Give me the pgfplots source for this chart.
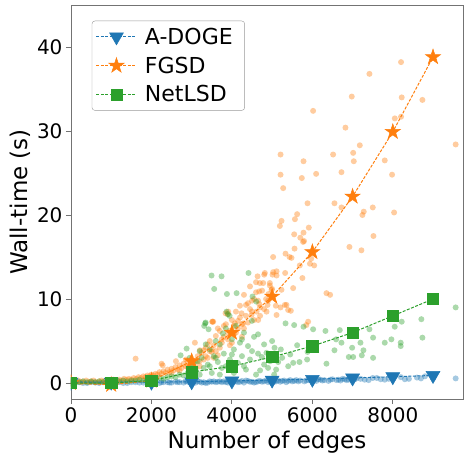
\documentclass[border=0pt]{standalone}
\usepackage{pgfplots}
\pgfplotsset{compat=1.18}
\usepackage{fontspec}
\setmainfont{DejaVu Sans}
\definecolor{cA}{HTML}{1F77B4}
\definecolor{cB}{HTML}{FF7F0E}
\definecolor{cC}{HTML}{2CA02C}
\pgfdeclareplotmark{fstar}{%
  \pgfpathmoveto{\pgfpointpolar{90}{\pgfplotmarksize}}%
  \pgfpathlineto{\pgfpointpolar{126}{0.382\pgfplotmarksize}}%
  \pgfpathlineto{\pgfpointpolar{162}{\pgfplotmarksize}}%
  \pgfpathlineto{\pgfpointpolar{198}{0.382\pgfplotmarksize}}%
  \pgfpathlineto{\pgfpointpolar{234}{\pgfplotmarksize}}%
  \pgfpathlineto{\pgfpointpolar{270}{0.382\pgfplotmarksize}}%
  \pgfpathlineto{\pgfpointpolar{306}{\pgfplotmarksize}}%
  \pgfpathlineto{\pgfpointpolar{342}{0.382\pgfplotmarksize}}%
  \pgfpathlineto{\pgfpointpolar{18}{\pgfplotmarksize}}%
  \pgfpathlineto{\pgfpointpolar{54}{0.382\pgfplotmarksize}}%
  \pgfpathclose
  \pgfusepathqfillstroke}
\pgfdeclareplotmark{dot}{%
  \pgfpathcircle{\pgfpointorigin}{\pgfplotmarksize}%
  \pgfusepathqfill}
\begin{document}
\begin{tikzpicture}
\begin{axis}[
  scale only axis, width=392pt, height=394pt,
  xmin=0, xmax=9745, ymin=-1.9, ymax=45,
  xtick={0,2000,4000,6000,8000}, ytick={0,10,20,30,40},
  /pgf/number format/1000 sep={},
  /pgf/number format/assume math mode=true,
  tick label style={font=\fontsize{20}{24}\selectfont},
  label style={font=\fontsize{23}{27}\selectfont},
  xlabel={Number of edges}, ylabel={Wall-time (s)},
  xlabel style={yshift=-4pt, inner sep=1pt},
  tick align=outside, tick pos=left, major tick length=5pt,
  axis line style={gray!90!black, line width=0.9pt},
  every tick/.style={gray!90!black, line width=0.9pt},
  clip marker paths=true,
  legend style={at={(0.053,0.96)}, anchor=north west, draw=gray!80, rounded corners=3pt,
    font=\fontsize{22}{26}\selectfont, inner xsep=4pt, inner ysep=5pt, row sep=7pt,
    nodes={inner xsep=8pt}},
  legend cell align=left,
  legend image code/.code={\draw[mark repeat=2,mark phase=2,#1] plot coordinates {(0pt,0pt) (20pt,0pt) (40pt,0pt)};},
]
% scatter: A-DOGE
\addplot[only marks, mark=dot, mark size=3pt, color=cA, mark options={fill=cA, fill opacity=0.4}, forget plot] coordinates {
(0,0.0)(100,0.05)(200,0.1)(300,0.0)(400,0.0)(500,0.1)(600,0.05)(700,0.0)(800,0.1)(900,0.05)(1000,0.05)(1100,0.1)(1200,0.1)(1300,0.0)(1400,0.0)(1500,0.1)(1600,0.1)(1700,0.05)(1800,0.05)(1900,0.1)(2000,0.1)(2100,0.05)(2200,0.0)(2300,0.1)(2400,0.1)(2500,0.05)(2600,0.15)(2700,0.1)(2800,0.05)(2900,0.15)(3000,0.1)(3100,0.05)(3200,0.15)(3300,0.1)(3400,0.05)(3500,0.15)(3600,0.1)(3700,0.2)(3800,0.2)(3900,0.05)(4000,0.1)(4100,0.2)(4200,0.15)(4300,0.05)(4400,0.25)(4500,0.15)(4600,0.1)(4700,0.25)(4800,0.2)(4900,0.1)(5000,0.3)(5100,0.2)(5200,0.15)(5300,0.3)(5400,0.25)(5500,0.2)(5600,0.35)(5700,0.3)(5800,0.2)(5900,0.35)(6000,0.3)(6100,0.25)(6200,0.4)(6300,0.35)(6400,0.25)(6500,0.45)(6600,0.35)(6700,0.3)(6800,0.45)(6900,0.4)(7000,0.3)(7100,0.55)(7200,0.5)(7400,0.35)(7500,0.6)(7600,0.6)(7800,0.4)(7900,0.5)(8000,0.55)(8200,0.7)(8300,0.45)(8400,0.5)(8600,0.65)(8700,0.55)(8800,0.8)(9000,0.6)(9563,0.55)
(3150,0.2)(3350,0.0)(3550,0.2)(3750,0.1)(3950,0.25)(4150,0.1)(4350,0.3)(4550,0.05)(4750,0.15)(4950,0.2)(5150,0.3)(5350,0.1)(5550,0.25)(6150,0.45)(6750,0.5)(7300,0.4)(7700,0.45)
(2050,0.15)(2250,0.1)(2450,0.05)(2650,0.1)(2850,0.2)(3050,0.15)(3250,0.05)(3450,0.2)(3650,0.15)(3850,0.1)(4050,0.2)(4250,0.25)(4450,0.15)(4650,0.2)(4850,0.3)(5050,0.15)(5250,0.25)(5450,0.35)(5650,0.2)(5850,0.3)(6050,0.35)(6250,0.3)(6450,0.4)(6650,0.4)(6850,0.35)(7050,0.45)
};
% scatter: FGSD
\addplot[only marks, mark=dot, mark size=3pt, color=cB, mark options={fill=cB, fill opacity=0.4}, forget plot] coordinates {
(0,0.1)(30,0.3)(80,0.0)(120,0.2)(180,0.3)(250,0.1)(300,0.2)(380,0.3)(450,0.1)(500,0.2)(560,0.3)(620,0.1)(700,0.2)(760,0.3)(820,0.2)(880,0.1)(950,0.3)(1000,0.2)(1050,0.4)(1100,0.2)(1150,0.3)(1200,0.4)(1260,0.3)(1320,0.5)(1380,0.4)(1440,0.5)(1500,0.4)(1560,0.6)(1620,0.5)(1680,0.7)(1740,0.6)(1800,0.8)(1850,0.7)(1900,0.9)(1950,0.8)(2000,1.0)(2050,0.9)(2100,1.1)(2150,1.0)(2200,1.3)(2250,1.1)(2300,1.4)(2350,1.2)(2400,1.6)(2450,1.3)(2500,1.7)(2550,1.5)(2600,1.9)(2650,1.6)(2700,2.1)(2750,1.8)(2800,2.3)(2850,2.0)(2900,2.6)(2950,2.2)(3000,2.9)
(1606,2.9)(2253,2.3)(2280,2.1)(2608,2.6)(2857,2.8)(3080,4.8)(3204,3.9)(3520,7.3)(3900,8.2)(3510,7.3)(3842,8.3)
(3050,1.5)(3100,2.5)(3150,3.2)(3200,2.0)(3250,3.6)(3300,2.8)(3350,4.2)(3400,3.0)(3450,5.0)(3500,3.7)(3550,4.5)(3600,5.6)(3650,3.3)(3700,6.2)(3750,4.8)(3800,5.5)(3850,7.0)(3900,6.0)(3950,4.5)(4000,7.5)(4050,5.8)(4100,8.5)(4150,6.5)(4200,9.2)(4250,7.0)(4300,10.5)(4350,8.0)(4400,9.5)(4450,11.5)(4500,8.5)(4550,10.0)(4600,12.0)
(3100,1.8)(3300,3.9)(3400,4.6)(3500,4.0)(3600,3.8)(3650,6.5)(3700,4.2)(3800,6.8)(3900,5.2)(4000,4.8)(4100,6.0)(4200,7.8)(4300,6.5)(4350,9.3)(4400,7.2)(4500,9.8)(4550,7.5)(4600,10.8)(4700,9.0)(4750,11.0)(4800,8.8)(4900,9.8)(5000,11.2)
(4638,12.7)(4678,10.9)(4680,9.4)(4700,8.0)(4778,11.9)(4803,12.9)(4850,10.0)(4886,9.3)(4910,10.6)(4944,11.6)(5010,12.9)(5025,15.0)(5110,13.3)(5192,18.7)(5209,27.2)(5209,24.8)(5209,9.0)(5234,19.3)(5275,23.2)(5324,13.1)(5357,9.3)(5432,15.0)(5465,8.6)(5548,17.7)(5557,16.0)(5567,19.5)(5622,20.1)(5738,24.4)(5753,12.5)(5780,26.4)(5780,17.9)(5794,16.9)(5850,6.9)(5880,21.4)(5895,7.3)(5912,18.5)(5940,14.2)(5970,14.8)(6019,32.4)(6045,14.0)(6094,24.9)(6351,10.7)(6442,10.5)(6516,27.2)(6550,21.4)(6724,25.1)(6724,20.9)(6823,30.4)(6922,16.2)(6980,34.1)(7015,27.4)(7030,26.4)(7180,28.3)(7220,15.8)(7245,20.0)(7278,20.4)(7419,36.8)(7502,20.9)(7519,17.5)(7800,26.5)(7982,24.8)(8032,20.3)(8050,31.5)(8205,38.2)(8205,31.7)(8222,34.0)(8736,33.7)(9563,28.4)
(5333,15.4)(5482,14.9)(5688,14.0)(4819,13.1)(5025,13.2)(5110,12.8)(4695,11.9)(4943,11.9)(4985,11.1)(5233,11.1)(5523,11.3)(5316,9.3)(5398,8.7)(5093,9.2)(4861,8.5)(5110,8.1)(4613,8.5)(4489,8.1)(4653,7.5)(4240,8.3)(4281,7.1)(4074,7.1)(3536,7.3)(3908,8.5)(5770,16.8)(5700,17.3)
(2500,1.2)(2700,1.5)(2900,1.9)(3000,2.3)(3200,2.6)(3350,3.2)(3450,3.8)(3550,3.0)(3750,5.2)(3950,6.2)(4050,6.8)(4150,7.4)(4250,5.5)(4450,8.8)(4650,9.8)
};
% scatter: NetLSD
\addplot[only marks, mark=dot, mark size=3pt, color=cC, mark options={fill=cC, fill opacity=0.4}, forget plot] coordinates {
(0,0.0)(50,0.2)(100,0.1)(200,0.1)(300,0.2)(400,0.1)(500,0.2)(600,0.1)(700,0.2)(800,0.1)(900,0.2)(1000,0.1)(1100,0.2)(1200,0.2)(1300,0.3)(1400,0.2)(1500,0.3)(1600,0.3)(1700,0.4)(1800,0.3)(1900,0.4)(2000,0.4)(2100,0.5)(2200,0.6)(2300,0.5)(2400,0.7)(2500,0.8)(2600,0.7)(2700,1.0)(2800,0.9)(2900,1.2)(3000,1.1)
(2725,3.3)(2874,4.1)(3000,2.0)(3050,0.8)(3100,1.5)(3150,2.6)(3200,1.0)(3250,3.0)(3300,1.8)(3312,6.8)(3337,7.1)(3346,7.2)(3400,2.2)(3420,6.4)(3450,4.0)(3494,12.8)(3500,1.2)(3560,11.2)(3550,3.2)(3600,5.0)(3650,2.5)(3700,4.6)(3743,12.7)(3750,1.8)(3776,5.9)(3800,3.5)(3850,6.5)(3867,8.5)(3876,10.6)(3900,8.2)(3942,8.0)(3950,2.8)(4000,5.2)(4050,4.0)(4100,6.8)(4117,10.7)(4150,2.4)(4200,4.8)(4250,3.2)(4300,6.0)(4350,1.6)(4400,4.4)(4413,13.1)(4450,2.8)(4497,7.4)(4513,10.3)(4550,5.5)(4604,9.7)(4650,3.5)(4700,1.5)(4745,3.1)(4800,2.2)(4860,3.6)(4900,1.8)(4950,2.6)(5060,4.2)(5100,1.6)(5150,2.5)(5216,4.0)(5333,7.1)(5400,2.0)(5524,2.4)(5548,6.9)(5622,4.5)(5680,2.5)(5780,6.7)(5870,2.8)(5880,3.7)(5950,4.3)(6019,6.4)(6326,6.2)(6351,2.3)(6550,3.9)(6590,5.2)(6682,6.3)(6724,4.8)(6906,3.1)(6989,4.2)(7015,3.1)(7196,4.8)(7230,3.3)(7270,3.9)(7419,6.4)(7510,5.4)(7510,3.0)(7800,4.8)(7965,5.2)(8048,6.7)(8197,4.8)(8197,4.4)(8222,7.3)(8710,7.6)(8736,5.4)(9563,9.0)
(3200,3.8)(3350,4.6)(3450,2.0)(3600,3.0)(3700,1.0)(3850,2.0)(4000,3.4)(4050,1.2)(4250,5.2)(4300,2.0)(4500,3.8)(4600,1.0)(4650,5.8)(4800,4.6)(5000,5.0)(5050,1.0)(5250,3.0)(5450,3.4)(2950,3.0)(3050,2.4)
};
% lines
\addplot[color=cA, line width=1pt, dash pattern=on 3pt off 1.5pt, mark=triangle*, mark size=8pt, mark options={solid, rotate=180, fill=cA, draw=cA, line width=0.5pt}] coordinates {
(0,0.1)(1000,0.1)(2000,0.1)(3000,0.15)(4000,0.25)(5000,0.35)(6000,0.45)(7000,0.6)(8000,0.75)(9000,0.9)};
\addlegendentry{A-DOGE}
\addplot[color=cB, line width=1pt, dash pattern=on 3pt off 1.5pt, mark=fstar, mark size=8pt, mark options={solid, fill=cB, draw=cB, line width=0.5pt}] coordinates {
(0,0.0)(1000,-0.2)(2000,0.3)(3000,2.6)(4000,6.0)(5000,10.3)(6000,15.6)(7000,22.2)(8000,29.9)(9000,38.8)};
\addlegendentry{FGSD}
\addplot[color=cC, line width=1pt, dash pattern=on 3pt off 1.5pt, mark=square*, mark size=5.7pt, mark options={solid, fill=cC, draw=cC, line width=0.5pt}] coordinates {
(0,0.0)(1000,0.0)(2000,0.3)(3000,1.3)(4000,2.0)(5000,3.1)(6000,4.4)(7000,6.0)(8000,8.0)(9000,10.0)};
\addlegendentry{NetLSD}
\end{axis}
\pgfresetboundingbox
\path (-71pt,-58pt) rectangle (393pt,399pt);
\end{tikzpicture}
\end{document}
